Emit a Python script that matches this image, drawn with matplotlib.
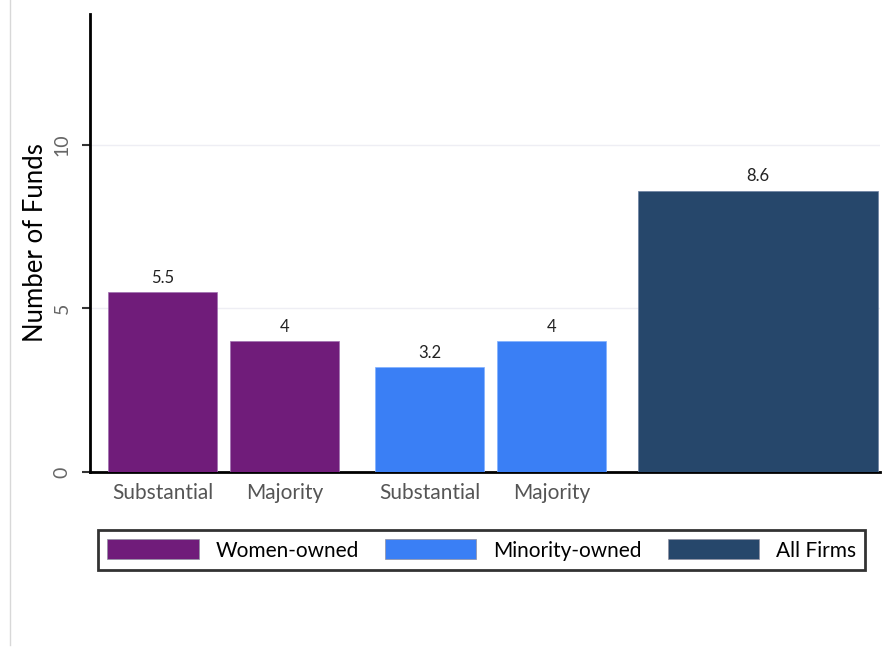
import matplotlib
matplotlib.use("Agg")
import matplotlib.pyplot as plt
from matplotlib.patches import Patch
from matplotlib.lines import Line2D

plt.rcParams['font.family'] = ['Lato', 'DejaVu Sans']

groups = ["Women-owned", "Minority-owned", "All Firms"]
women_labels = ["Substantial", "Majority"]
women_values = [5.5, 4]
minority_labels = ["Substantial", "Majority"]
minority_values = [3.2, 4]
all_value = [8.6]
colors = ["#701c7a", "#3a7ff5", "#26476b"]

fig = plt.figure(figsize=(8.82, 6.49), dpi=100)
ax = fig.add_axes([90/882, 1-472/649, 790/882, (472-14)/649])

W, H = 882, 649
def px(x):
    return (x - 90) / 100.0

pos_w = [px(162.5), px(285)]
pos_m = [px(429.5), px(551.5)]
pos_a = [px(758)]
bw = 1.09

bars = []
bars.append(ax.bar(pos_w, women_values, width=bw, color=colors[0], edgecolor="#a070b0", linewidth=0.5, zorder=3))
bars.append(ax.bar(pos_m, minority_values, width=bw, color=colors[1], edgecolor="#80b0ff", linewidth=0.5, zorder=3))
bars.append(ax.bar(pos_a, all_value, width=2.4, color=colors[2], edgecolor="#6a80a0", linewidth=0.5, zorder=3))

for b in bars:
    for rect in b:
        v = rect.get_height()
        ax.text(rect.get_x() + rect.get_width()/2, v + 0.2, f"{v:g}", ha="center", va="bottom",
                fontsize=12, color="#222222")

ax.set_xlim(0, 7.9)
ax.set_ylim(0, 14)
ax.set_yticks([0, 5, 10])
ax.set_yticklabels(["0", "5", "10"], rotation=90, va="center", color="#666666", fontsize=14)
ax.tick_params(axis="y", length=6, width=1.5, color="#333333", pad=8)
ax.set_xticks(pos_w + pos_m)
ax.set_xticklabels(women_labels + minority_labels, color="#555555", fontsize=15)
ax.tick_params(axis="x", length=0, pad=8)
ax.grid(axis="y", color="#eeeef4", linewidth=1, zorder=0)
ax.set_axisbelow(True)
for s in ["top", "right"]:
    ax.spines[s].set_visible(False)
ax.spines["left"].set_linewidth(2)
ax.spines["bottom"].set_linewidth(2)
ax.spines["left"].set_color("black")
ax.spines["bottom"].set_color("black")
ax.set_ylabel("Number of Funds", fontsize=18.5, color="black", labelpad=4)

handles = [Patch(facecolor=c, edgecolor="#9090a0", linewidth=0.5) for c in colors]
leg = fig.legend(handles, groups, loc="center", bbox_to_anchor=((97+866)/2/W, 1-550/H),
                 ncol=3, fontsize=15, frameon=True, fancybox=False, edgecolor="black",
                 handlelength=4.4, handleheight=1.1, handletextpad=0.8, columnspacing=1.25,
                 borderpad=0.45)
leg.get_frame().set_linewidth(2)

fig.add_artist(Line2D([10/W, 10/W], [1-645/H, 1.0], color="#d8d8d8", linewidth=1))

fig.savefig("out.png", dpi=100)
